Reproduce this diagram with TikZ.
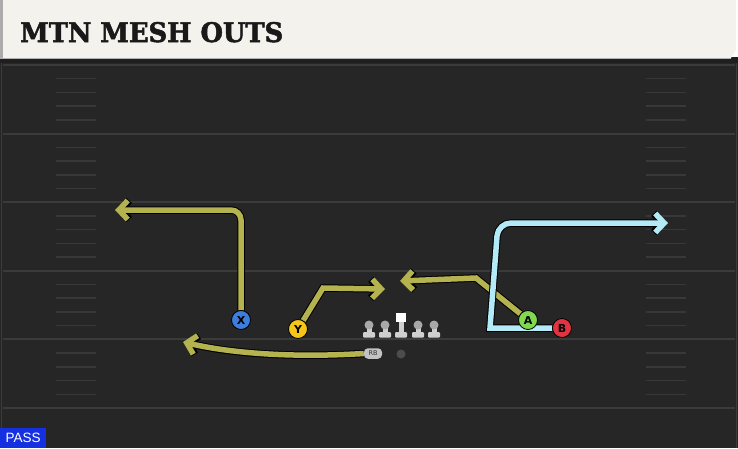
\documentclass[tikz,border=0pt]{standalone}
\usepackage{fontspec}
\usetikzlibrary{arrows.meta}
\newfontfamily\titlefont{DejaVu Serif}[FakeBold=2]
\newfontfamily\labelfont{DejaVu Sans}
\newfontfamily\passfont{Liberation Sans}
\definecolor{fieldbg}{HTML}{262626}
\definecolor{yardc}{HTML}{3B3B3B}
\definecolor{hashc}{HTML}{383838}
\definecolor{headerbg}{HTML}{F4F2EC}
\definecolor{routeO}{HTML}{B4B34F}
\definecolor{routeC}{HTML}{B3EAF7}
\definecolor{pX}{HTML}{3D7DDB}
\definecolor{pY}{HTML}{F5C518}
\definecolor{pA}{HTML}{7FD84E}
\definecolor{pB}{HTML}{E23340}
\definecolor{olc}{HTML}{CFCFCF}
\definecolor{olhead}{HTML}{A8A8A8}
\definecolor{passblue}{HTML}{1530E0}
\pgfdeclarelayer{bg}\pgfsetlayers{bg,main}
\begin{document}
\begin{tikzpicture}[x=1pt,y=-1pt,
  player/.style={circle, draw=black, line width=0.8pt, minimum size=19pt, inner sep=0pt,
    font=\labelfont\bfseries\fontsize{11}{11}\selectfont, text=black},
  routeout/.style={line width=7.5pt, draw=black, -{Straight Barb[length=9pt,width=19pt]}},
  routein/.style={line width=5.5pt, -{Straight Barb[length=9pt,width=19pt]}},
  yard/.style={draw=yardc, line width=2pt},
  hash/.style={draw=hashc, line width=1.5pt},
  olhd/.style={circle, fill=olhead, minimum size=9pt, inner sep=0pt}]
\useasboundingbox (0,0) rectangle (738,448);

% players and formation
\node[player, fill=pX] (X) at (241,320) {X};
\node[player, fill=pY] (Y) at (298,329) {Y};
\node[player, fill=pA] (A) at (528,320) {A};
\node[player, fill=pB] (B) at (562,328) {B};
\foreach \x [count=\i] in {369,385,418,434} {
  \fill[olc] (\x-2.5,325) rectangle (\x+2.5,334);
  \fill[olc, rounded corners=1pt] (\x-6,332) rectangle (\x+6,337.5);
  \node[olhd] (OL\i) at (\x,325) {};
}
\fill[olc] (398.5,321) rectangle (403.5,334);
\fill[olc, rounded corners=1pt] (395,332) rectangle (407,337.5);
\node[fill=white, minimum size=9.5pt, inner sep=0pt] (C) at (401,317.5) {};
\node[circle, fill=gray!60!black, minimum size=9pt, inner sep=0pt] (QB) at (401,354) {};
\node[fill=olc!85!gray, rounded corners=4pt, minimum width=18pt, minimum height=10.5pt, inner sep=0pt,
  font=\labelfont\fontsize{6.5}{6.5}\selectfont, text=black!80] (RB) at (373,353.5) {RB};

\coordinate (xc) at (241,210); \coordinate (xe) at (115,210);
\coordinate (yc) at (323,288); \coordinate (ye) at (385,289);
\coordinate (ac) at (476,278); \coordinate (ae) at (400,281);
\coordinate (bc1) at (490,328); \coordinate (bc2) at (498,223); \coordinate (be) at (668,223);
\coordinate (re) at (183,342);

% title and pass tag
\node[anchor=base west, inner sep=0pt, text=black!90] (title) at (20,42)
  {\resizebox{263pt}{20pt}{\titlefont\bfseries MTN MESH OUTS}};
\node[fill=passblue, text=white, anchor=south west, minimum width=46pt, minimum height=20pt,
  inner sep=0pt, font=\passfont\fontsize{13.5}{13.5}\selectfont] (pass) at (0,448) {PASS};

\begin{pgfonlayer}{bg}
  \fill[fieldbg] (0,58) rectangle (738,448);
  \fill[black!88] (0,57) rectangle (738,63);
  \foreach \k in {0,...,5} \draw[yard] (3,{65+68.6*\k}) -- (735,{65+68.6*\k});
  \foreach \k in {0,...,4} \foreach \j in {1,...,4} {
    \draw[hash] (56,{65+68.6*\k+13.72*\j}) -- (96,{65+68.6*\k+13.72*\j});
    \draw[hash] (646,{65+68.6*\k+13.72*\j}) -- (686,{65+68.6*\k+13.72*\j});
  }
  \draw[yardc, line width=1.5pt] (1.5,63) -- (1.5,448);
  \draw[yardc, line width=1.5pt] (736.5,63) -- (736.5,448);
  % header
  \fill[headerbg] (0,0) -- (736,0) -- (736,50) -- (731,58) -- (0,58) -- cycle;
  \fill[gray!65] (0,0) rectangle (3,58);
  \draw[gray!60, line width=1pt] (0,58) -- (731,58);
  % routes
  \draw[routeout, rounded corners=10pt] (X) -- (xc) -- (xe);
  \draw[routein, routeO, rounded corners=10pt] (X) -- (xc) -- (xe);
  \draw[routeout] (Y) -- (yc) -- (ye);
  \draw[routein, routeO] (Y) -- (yc) -- (ye);
  \draw[routeout] (A) -- (ac) -- (ae);
  \draw[routein, routeO] (A) -- (ac) -- (ae);
  \draw[routeout] (RB.west) .. controls (290,358) and (230,353) .. (re);
  \draw[routein, routeO] (RB.west) .. controls (290,358) and (230,353) .. (re);
  \draw[routeout] (B) -- (bc1) [rounded corners=13pt] -- (bc2) -- (be);
  \draw[routein, routeC] (B) -- (bc1) [rounded corners=13pt] -- (bc2) -- (be);
\end{pgfonlayer}
\end{tikzpicture}
\end{document}
